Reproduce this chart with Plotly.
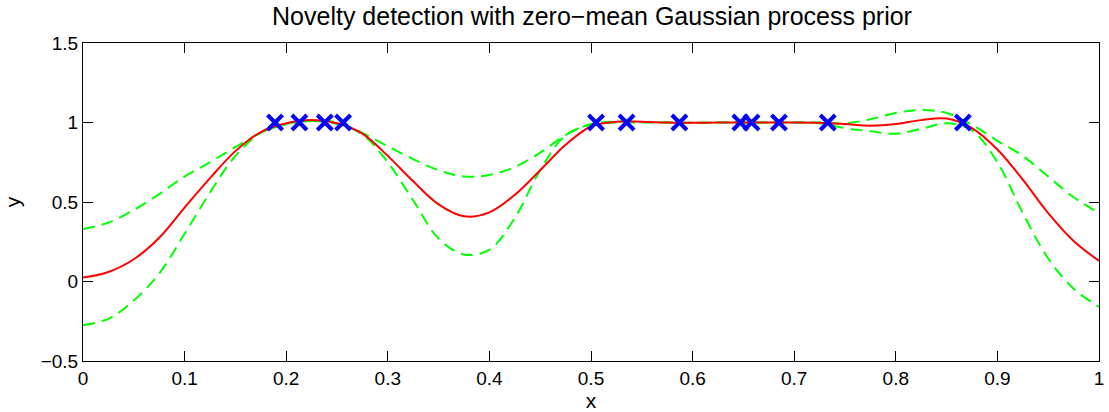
import plotly.graph_objects as go

# training inputs (novelty detection data, all with target 1)
train_x = [0.189, 0.213, 0.238, 0.256, 0.505, 0.535, 0.587, 0.647, 0.658, 0.685, 0.733, 0.866]
train_y = [1, 1, 1, 1, 1, 1, 1, 1, 1, 1, 1, 1]

# posterior curves
grid_x = [0, 0.025, 0.05, 0.075, 0.1, 0.125, 0.15, 0.175, 0.2, 0.225, 0.25, 0.275, 0.3,
          0.325, 0.35, 0.375, 0.4, 0.425, 0.45, 0.475, 0.5, 0.525, 0.55, 0.575, 0.6,
          0.625, 0.65, 0.675, 0.7, 0.725, 0.75, 0.775, 0.8, 0.825, 0.85, 0.875, 0.9,
          0.925, 0.95, 0.975, 1.0]
mean_y = [0.025, 0.06, 0.14, 0.275, 0.465, 0.65, 0.82, 0.94, 0.995, 1.015, 0.995, 0.93, 0.79,
          0.63, 0.485, 0.41, 0.435, 0.545, 0.70, 0.86, 0.975, 1.005, 1.005, 1.0, 0.998,
          1.0, 1.0, 1.0, 1.0, 0.998, 0.99, 0.98, 0.99, 1.015, 1.025, 0.965, 0.83,
          0.64, 0.43, 0.255, 0.13]
upper_y = [0.33, 0.37, 0.45, 0.55, 0.66, 0.75, 0.845, 0.935, 0.99, 1.01, 1.0, 0.935, 0.85,
           0.77, 0.70, 0.66, 0.67, 0.72, 0.81, 0.92, 0.99, 1.005, 1.003, 1.0, 0.998,
           1.0, 1.0, 1.0, 1.0, 1.0, 0.995, 1.02, 1.06, 1.078, 1.06, 0.985, 0.885,
           0.79, 0.66, 0.53, 0.43]
lower_y = [-0.275, -0.235, -0.12, 0.05, 0.30, 0.56, 0.79, 0.935, 0.99, 1.01, 0.99, 0.925, 0.75,
           0.51, 0.27, 0.17, 0.20, 0.40, 0.70, 0.92, 0.985, 1.0, 1.0, 1.0, 0.998,
           1.0, 1.0, 1.0, 1.0, 0.995, 0.965, 0.945, 0.93, 0.96, 0.995, 0.95, 0.75,
           0.43, 0.145, -0.045, -0.16]

x_ticks = [0, 0.1, 0.2, 0.3, 0.4, 0.5, 0.6, 0.7, 0.8, 0.9, 1]
x_tick_text = ["0", "0.1", "0.2", "0.3", "0.4", "0.5", "0.6", "0.7", "0.8", "0.9", "1"]
y_ticks = [-0.5, 0, 0.5, 1, 1.5]
y_tick_text = ["\u22120.5", "0", "0.5", "1", "1.5"]

FONT = "Liberation Sans, Arial, Helvetica, sans-serif"

fig = go.Figure()
fig.add_trace(go.Scatter(x=grid_x, y=upper_y, mode="lines",
                         line=dict(color="#00FF00", width=2, dash="12px,7px", shape="spline"),
                         showlegend=False))
fig.add_trace(go.Scatter(x=grid_x, y=lower_y, mode="lines",
                         line=dict(color="#00FF00", width=2, dash="12px,7px", shape="spline"),
                         showlegend=False))
fig.add_trace(go.Scatter(x=grid_x, y=mean_y, mode="lines",
                         line=dict(color="#FF0000", width=2, shape="spline"),
                         showlegend=False))
fig.add_trace(go.Scatter(x=train_x, y=train_y, mode="markers",
                         marker=dict(symbol="x-thin-open", size=15, color="#0000FF",
                                     line=dict(color="#0000FF", width=4)),
                         showlegend=False))

axis_common = dict(showgrid=False, zeroline=False, showline=True, linecolor="black",
                   linewidth=1, mirror="allticks", ticks="inside", ticklen=10,
                   tickcolor="black", ticklabeloverflow="allow",
                   tickfont=dict(family=FONT, size=19, color="black"))

fig.update_layout(
    width=1109, height=412,
    margin=dict(l=82.5, r=5, t=43, b=51),
    paper_bgcolor="white", plot_bgcolor="white",
    font=dict(family=FONT, color="black"),
    title=dict(text="Novelty detection with zero\u2212mean Gaussian process prior",
               x=592 / 1109, xanchor="center", xref="container",
               y=1 - 16 / 412, yanchor="middle", yref="container",
               font=dict(family=FONT, size=25, color="black")),
    xaxis=dict(range=[0, 1], tickvals=x_ticks, ticktext=x_tick_text,
               title=dict(text="x", font=dict(family=FONT, size=21), standoff=0),
               **axis_common),
    yaxis=dict(range=[-0.5, 1.5], tickvals=y_ticks, ticktext=y_tick_text,
               title=dict(text="y", font=dict(family=FONT, size=21), standoff=14),
               **axis_common),
)

fig.write_html("out.html")
